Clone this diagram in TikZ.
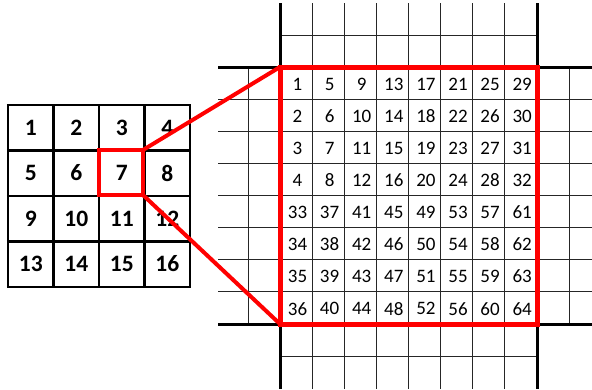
\documentclass[tikz,border=0pt]{standalone}
\usepackage{fontspec}
\setmainfont{Carlito}

\tikzset{
  thinline/.style={black!85, line width=0.9pt},
  thickline/.style={black, line width=3pt},
  redline/.style={red, line width=4pt},
  bignum/.style={font=\fontsize{19}{19}\selectfont},
  smallnum/.style={font=\fontsize{23.5}{23.5}\selectfont\bfseries}
}

\begin{document}
\begin{tikzpicture}[x=1pt, y=-1pt]
  \useasboundingbox (0,0) rectangle (592,389);

  % small 4x4 block
  \foreach \k in {0,...,4} {
    \draw[black, line width=2.5pt] (8+45.5*\k,105) -- (8+45.5*\k,287);
    \draw[black, line width=2.5pt] (6.75,105+45.5*\k) -- (191.25,105+45.5*\k);
  }
  \foreach \r in {0,...,3}
    \foreach \c in {0,...,3} {
      \pgfmathtruncatemacro{\n}{4*\r+\c+1}
      \node[smallnum] (s-\n) at (30.75+45.5*\c,127.5+45.5*\r) {\n};
    }

  % big grid: thin lines
  \foreach \k in {1,...,7} {
    \draw[thinline] (280+32.1*\k,3) -- (280+32.1*\k,389);
    \draw[thinline] (218,67+32.1*\k) -- (592,67+32.1*\k);
  }
  \draw[thinline] (280,35) -- (537,35);
  \draw[thinline] (280,356) -- (537,356);
  \draw[thinline] (248,67) -- (248,324);
  \draw[thinline] (569,67) -- (569,324);

  % thick black borders
  \draw[thickline] (280,3) -- (280,389);
  \draw[thickline] (537,3) -- (537,389);
  \draw[thickline] (218,67) -- (592,67);
  \draw[thickline] (218,324) -- (592,324);

  % numbers, column-major in 4x4 quarters
  \foreach \r in {0,...,7}
    \foreach \c in {0,...,7} {
      \pgfmathtruncatemacro{\n}{\r<4 ? 4*\c+\r+1 : 4*\c+\r+29}
      \node[bignum] (b-\n) at (297.5+32.1*\c,84+32.1*\r) {\n};
    }

  % zoom box and rays
  \coordinate (s-nw) at (99,150);
  \coordinate (s-ne) at (143,150);
  \coordinate (s-se) at (143,195);
  \coordinate (b-nw) at (280,67);
  \coordinate (b-se) at (537,324);
  \coordinate (b-sw) at (280,324);
  \draw[redline] (s-nw) rectangle (s-se);
  \draw[red, line width=5pt] (b-nw) rectangle (b-se);
  \draw[redline] (s-ne) -- (b-nw);
  \draw[redline] (s-se) -- (b-sw);
\end{tikzpicture}
\end{document}
